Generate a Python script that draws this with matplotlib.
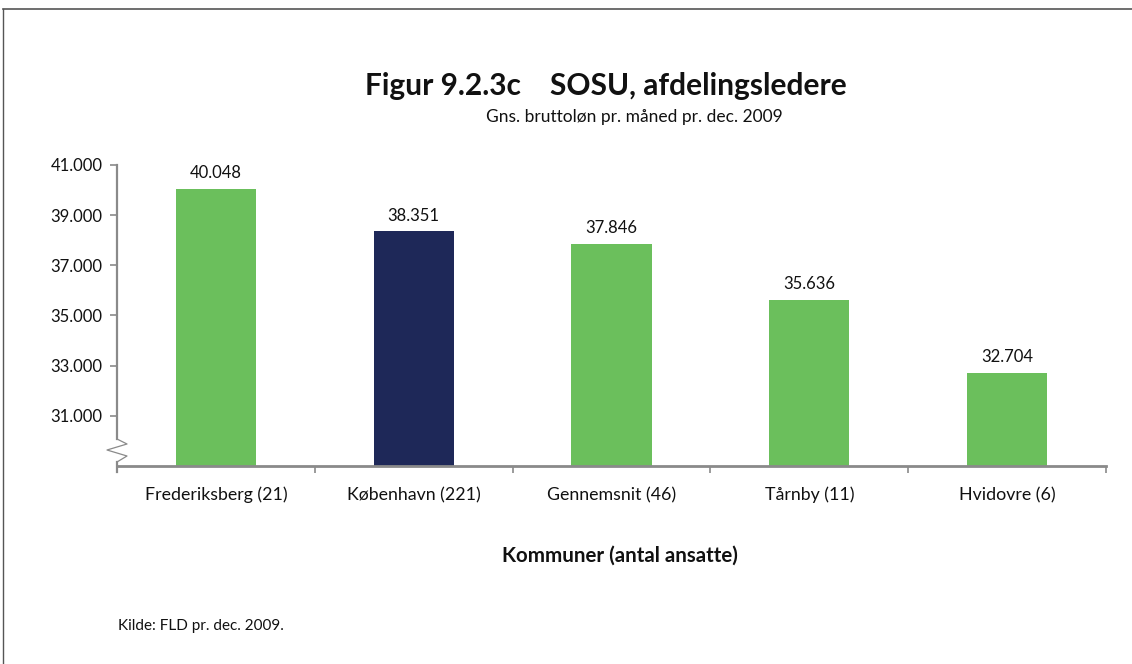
import matplotlib
matplotlib.use("Agg")
import matplotlib.pyplot as plt
from matplotlib.lines import Line2D

plt.rcParams['font.family'] = ['Lato', 'DejaVu Sans']

categories = ["Frederiksberg (21)", "København (221)", "Gennemsnit (46)", "Tårnby (11)", "Hvidovre (6)"]
values = [40048, 38351, 37846, 35636, 32704]
bar_colors = ["#6BBF5C", "#1E2858", "#6BBF5C", "#6BBF5C", "#6BBF5C"]
yticks = [31000, 33000, 35000, 37000, 39000, 41000]
ytick_labels = ["31.000", "33.000", "35.000", "37.000", "39.000", "41.000"]

W, H = 1132, 664
fig = plt.figure(figsize=(W / 100, H / 100), dpi=100)
ax = fig.add_axes([117 / W, 1 - 466 / H, (1106 - 117) / W, (466 - 165) / H])

x = list(range(len(categories)))
bars = ax.bar(x, values, width=0.405, color=bar_colors, zorder=2)
ax.set_ylim(29000, 41000)
ax.set_xlim(-0.5, len(categories) - 0.5)

for xi, v in zip(x, values):
    ax.annotate(f"{v/1000:.3f}", (xi, v), xytext=(0, 5.5), textcoords="offset points",
                ha="center", va="bottom", fontsize=12, color="#111111")

ax.set_yticks(yticks)
ax.set_yticklabels(ytick_labels, fontsize=12, color="#111111")
ax.set_xticks(x)
ax.set_xticklabels(categories, fontsize=12.8, color="#111111")
ax.tick_params(axis='x', which='major', length=0, pad=15)
ax.set_xticks([i - 0.5 for i in range(len(categories) + 1)], minor=True)
ax.tick_params(axis='x', which='minor', length=5, width=1.2, color="#8a8a8a")
ax.tick_params(axis='y', length=5, width=1.2, color="#8a8a8a", pad=5.5)

for s in ["top", "right", "left"]:
    ax.spines[s].set_visible(False)
ax.spines["bottom"].set_color("#8a8a8a")
ax.spines["bottom"].set_linewidth(2)

# custom left axis with break symbol (pixel coordinates)
def P(px, py):
    return (px / W, 1 - py / H)

gray = "#8a8a8a"
for pts, lw in [
    ([(117, 165), (117, 439)], 1.6),
    ([(117, 439), (127, 444), (107, 450), (127, 456), (117, 462)], 0.9),
    ([(117, 462), (117, 472)], 1.6),
]:
    xs = [P(*p)[0] for p in pts]
    ys = [P(*p)[1] for p in pts]
    fig.add_artist(Line2D(xs, ys, color=gray, linewidth=lw, transform=fig.transFigure))

# frame lines (top and left)
fig.add_artist(Line2D([3 / W, 1], [1 - 9 / H, 1 - 9 / H], color="#555555", linewidth=1.2, transform=fig.transFigure))
fig.add_artist(Line2D([3 / W, 3 / W], [0, 1 - 9 / H], color="#555555", linewidth=1.0, transform=fig.transFigure))

fig.text(606 / W, 1 - 86 / H, "Figur 9.2.3c    SOSU, afdelingsledere", ha="center", va="center",
         fontsize=21.5, fontweight="bold", color="#111111")
fig.text(634 / W, 1 - 117 / H, "Gns. bruttoløn pr. måned pr. dec. 2009", ha="center", va="center",
         fontsize=12.5, color="#111111")
fig.text(620 / W, 1 - 556 / H, "Kommuner (antal ansatte)", ha="center", va="center",
         fontsize=14.8, fontweight="bold", color="#111111")
fig.text(118 / W, 1 - 626 / H, "Kilde: FLD pr. dec. 2009.", ha="left", va="center",
         fontsize=11, color="#111111")

fig.savefig("out.png", dpi=100)
